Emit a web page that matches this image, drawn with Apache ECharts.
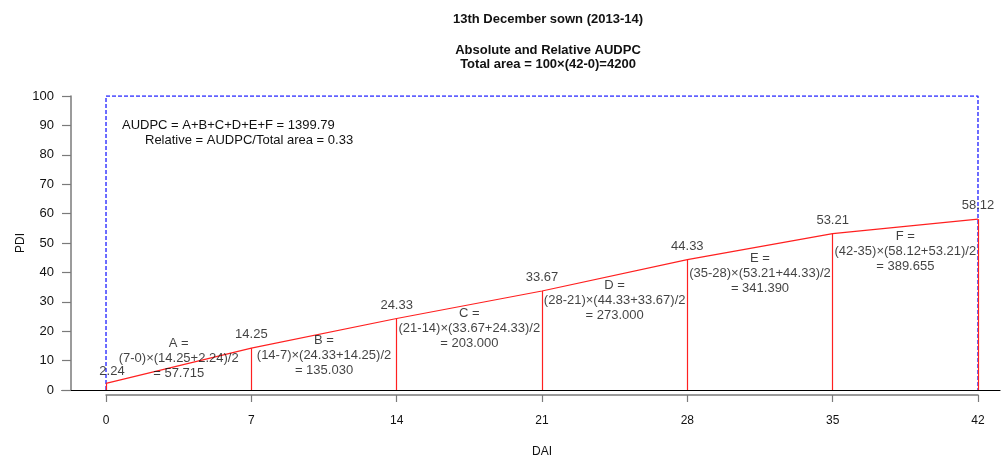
<!DOCTYPE html>
<html>
<head>
<meta charset="utf-8">
<script src="https://cdn.jsdelivr.net/npm/echarts@6/dist/echarts.min.js"></script>
<style>
  html, body { margin: 0; padding: 0; background: #fff; }
  #chart { width: 1003px; height: 463px; }
</style>
</head>
<body>
<div id="chart"></div>
<script>
// Disease assessment days and per-date disease index
const DAI = [0, 7, 14, 21, 28, 35, 42];
const PDI = [2.24, 14.25, 24.33, 33.67, 44.33, 53.21, 58.12];
const SEGMENT_NAMES = ['A', 'B', 'C', 'D', 'E', 'F'];
const PDI_MAX = 100;
const PDI_STEP = 10;
const DAI_STEP = 7;

// Vertical placement (in PDI units) of each trapezoid's formula block
const NOTE_LEVEL = [10.9, 11.6, 21.1, 30.6, 39.8, 47.3];

const FONT = '"Liberation Sans", Arial, Helvetica, sans-serif';
const INK = '#111111';
const RED = '#ff2020';
const BLUE = '#2e2eff';
const AXIS_GREY = '#7a7a7a';

// Trapezoid areas between consecutive assessments
const areas = SEGMENT_NAMES.map((_, i) =>
  (DAI[i + 1] - DAI[i]) * (PDI[i + 1] + PDI[i]) / 2);
const audpc = areas.reduce((a, b) => a + b, 0);
const span = DAI[DAI.length - 1] - DAI[0];
const totalArea = PDI_MAX * span;
const relative = audpc / totalArea;

const curve = DAI.map((d, i) => [d, PDI[i]]);
const frame = [[DAI[0], 0], [DAI[0], PDI_MAX], [DAI[DAI.length - 1], PDI_MAX], [DAI[DAI.length - 1], 0]];
const verticals = DAI.map((d, i) => [{ coord: [d, 0] }, { coord: [d, PDI[i]] }]);

const notes = SEGMENT_NAMES.map((name, i) => ({
  value: [(DAI[i] + DAI[i + 1]) / 2, NOTE_LEVEL[i]],
  text: name + ' =\n(' + DAI[i + 1] + '-' + DAI[i] + ')×(' + PDI[i + 1].toFixed(2) + '+' +
        PDI[i].toFixed(2) + ')/2\n= ' + areas[i].toFixed(3)
}));

const pointLabels = curve.map((p, i) => i === 0
  ? { value: p, label: { offset: [6, 2] } }
  : { value: p });

const chart = echarts.init(document.getElementById('chart'), null, { renderer: 'canvas' });

chart.setOption({
  animation: false,
  backgroundColor: '#ffffff',
  textStyle: { fontFamily: FONT, color: INK },
  title: [
    {
      text: '13th December sown (2013-14)',
      left: 543, top: 7, textAlign: 'center',
      textStyle: { fontFamily: FONT, fontSize: 13, fontWeight: 'bold', color: INK, lineHeight: 14 }
    },
    {
      text: 'Absolute and Relative AUDPC\nTotal area = ' + PDI_MAX + '×(' + DAI[DAI.length - 1] + '-' + DAI[0] + ')=' + totalArea,
      left: 543, top: 38, textAlign: 'center',
      textStyle: { fontFamily: FONT, fontSize: 13, fontWeight: 'bold', color: INK, lineHeight: 14 }
    }
  ],
  grid: [
    { left: 62, right: 3, top: 96, bottom: 73 },
    { left: 106, right: 25, top: 96, bottom: 73 }
  ],
  xAxis: [
    {
      gridIndex: 0, type: 'value', min: -2.12, max: 43.06,
      axisLine: { show: true, onZero: false, lineStyle: { color: '#000', width: 1.2 } },
      axisTick: { show: false }, axisLabel: { show: false }, splitLine: { show: false }
    },
    {
      gridIndex: 1, type: 'value', min: 0, max: 42, interval: DAI_STEP, offset: 13,
      axisLine: { show: true, onZero: false, lineStyle: { color: AXIS_GREY, width: 1.5 } },
      axisTick: { show: true, length: 7, lineStyle: { color: AXIS_GREY, width: 1.2 } },
      axisLabel: { margin: 20, fontSize: 12, color: INK, fontFamily: FONT },
      splitLine: { show: false },
      name: 'DAI', nameLocation: 'middle', nameGap: 51, nameMoveOverlap: false,
      nameTextStyle: { fontSize: 12, color: INK, fontFamily: FONT }
    }
  ],
  yAxis: [
    {
      gridIndex: 0, type: 'value', min: 0, max: PDI_MAX, interval: PDI_STEP, offset: -9,
      axisLine: { show: true, onZero: false, lineStyle: { color: AXIS_GREY, width: 1.5 } },
      axisTick: { show: true, length: 9, lineStyle: { color: AXIS_GREY, width: 1.2 } },
      axisLabel: { margin: 17, fontSize: 13, color: INK, fontFamily: FONT },
      splitLine: { show: false },
      name: 'PDI', nameLocation: 'middle', nameGap: 44, nameMoveOverlap: false,
      nameTextStyle: { fontSize: 12, color: INK, fontFamily: FONT }
    },
    { gridIndex: 1, type: 'value', min: 0, max: PDI_MAX, show: false }
  ],
  graphic: [
    {
      type: 'text', left: 122, top: 119, silent: true,
      style: { text: 'AUDPC = ' + SEGMENT_NAMES.join('+') + ' = ' + audpc.toFixed(2),
               font: '13px ' + FONT, fill: INK }
    },
    {
      type: 'text', left: 145, top: 134, silent: true,
      style: { text: 'Relative = AUDPC/Total area = ' + relative.toFixed(2),
               font: '13px ' + FONT, fill: INK }
    }
  ],
  series: [
    {
      name: 'frame', type: 'line', xAxisIndex: 0, yAxisIndex: 0,
      data: frame, symbol: 'none', silent: true, z: 1,
      lineStyle: { color: BLUE, width: 1.4, type: [4, 2] }
    },
    {
      name: 'PDI', type: 'line', xAxisIndex: 0, yAxisIndex: 0,
      data: curve, symbol: 'none', z: 3, silent: true,
      lineStyle: { color: RED, width: 1.2 },
      markLine: {
        silent: true, symbol: ['none', 'none'], animation: false,
        label: { show: false },
        lineStyle: { color: RED, width: 1.2, type: 'solid' },
        emphasis: { disabled: true },
        data: verticals
      }
    },
    {
      name: 'values', type: 'scatter', xAxisIndex: 0, yAxisIndex: 0,
      data: pointLabels, symbolSize: 0, silent: true, z: 4,
      label: {
        show: true, position: 'top', distance: 7,
        fontSize: 13, color: INK, fontFamily: FONT,
        formatter: p => p.value[1].toFixed(2)
      }
    },
    {
      name: 'notes', type: 'scatter', xAxisIndex: 0, yAxisIndex: 0,
      data: notes, symbolSize: 0, silent: true, z: 4,
      label: {
        show: true, position: 'inside',
        fontSize: 13, lineHeight: 15, color: INK, fontFamily: FONT, align: 'center',
        formatter: p => p.data.text
      }
    }
  ]
});
</script>
</body>
</html>
